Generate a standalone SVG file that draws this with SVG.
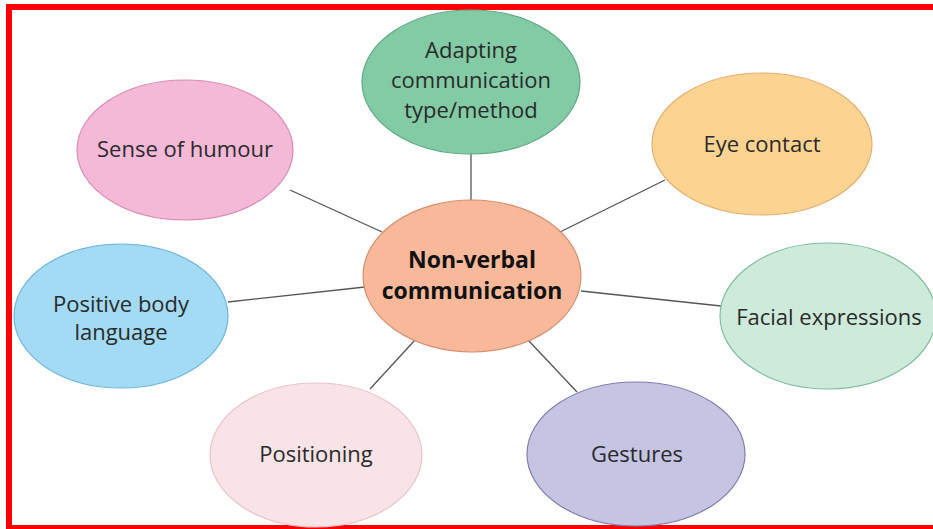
<svg xmlns="http://www.w3.org/2000/svg" width="933" height="529" viewBox="0 0 933 529">
<style>
.t{font-family:"Open Sans","Noto Sans",sans-serif;font-size:22px;fill:#2a2a2a;text-anchor:middle}
.b{font-weight:bold;font-size:23px;fill:#111}
.c line{stroke:#555;stroke-width:1.3}
ellipse{stroke-width:1.2}
</style>
<rect width="933" height="529" fill="#fff"/>
<g id="border" fill="#ff0000">
<rect x="6" y="4" width="927" height="6"/>
<rect x="6" y="4" width="6" height="525"/>
<rect x="6" y="525" width="927" height="4"/>
</g>
<g class="c" id="connectors">
<line x1="471" y1="153" x2="471" y2="202"/>
<line x1="290" y1="190" x2="382" y2="232"/>
<line x1="665" y1="180" x2="560" y2="232"/>
<line x1="228" y1="302" x2="365" y2="287"/>
<line x1="581" y1="291" x2="721" y2="306"/>
<line x1="370" y1="389" x2="415" y2="340"/>
<line x1="528" y1="340" x2="577" y2="392"/>
</g>
<g id="adapting">
<ellipse cx="471" cy="82" rx="109" ry="72" fill="#82cba5" stroke="#5fa885"/>
<text class="t" x="471" y="58">Adapting</text>
<text class="t" x="471" y="88">communication</text>
<text class="t" x="471" y="118">type/method</text>
</g>
<g id="humour">
<ellipse cx="185" cy="150" rx="108" ry="70" fill="#f5b9d8" stroke="#d88cb3"/>
<text class="t" x="185" y="157">Sense of humour</text>
</g>
<g id="eye">
<ellipse cx="762" cy="144" rx="110" ry="71" fill="#fdd392" stroke="#e0b070"/>
<text class="t" x="762" y="152">Eye contact</text>
</g>
<g id="center">
<ellipse cx="472" cy="276" rx="109" ry="76" fill="#f8b99b" stroke="#d49070"/>
<text class="t b" x="472" y="268">Non-verbal</text>
<text class="t b" x="472" y="299">communication</text>
</g>
<g id="body">
<ellipse cx="121" cy="316" rx="107" ry="72" fill="#a3daf4" stroke="#6fb8d8"/>
<text class="t" x="121" y="312">Positive body</text>
<text class="t" x="121" y="340">language</text>
</g>
<g id="facial">
<ellipse cx="828" cy="316" rx="108" ry="73" fill="#cdeadb" stroke="#80bba0"/>
<text class="t" x="829" y="325">Facial expressions</text>
</g>
<g id="positioning">
<ellipse cx="316" cy="455" rx="106" ry="72" fill="#f8e3e6" stroke="#e8c4c9"/>
<text class="t" x="316" y="462">Positioning</text>
</g>
<g id="gestures">
<ellipse cx="636" cy="454" rx="109" ry="72" fill="#c6c4e3" stroke="#7f7daa"/>
<text class="t" x="637" y="462">Gestures</text>
</g>
</svg>
